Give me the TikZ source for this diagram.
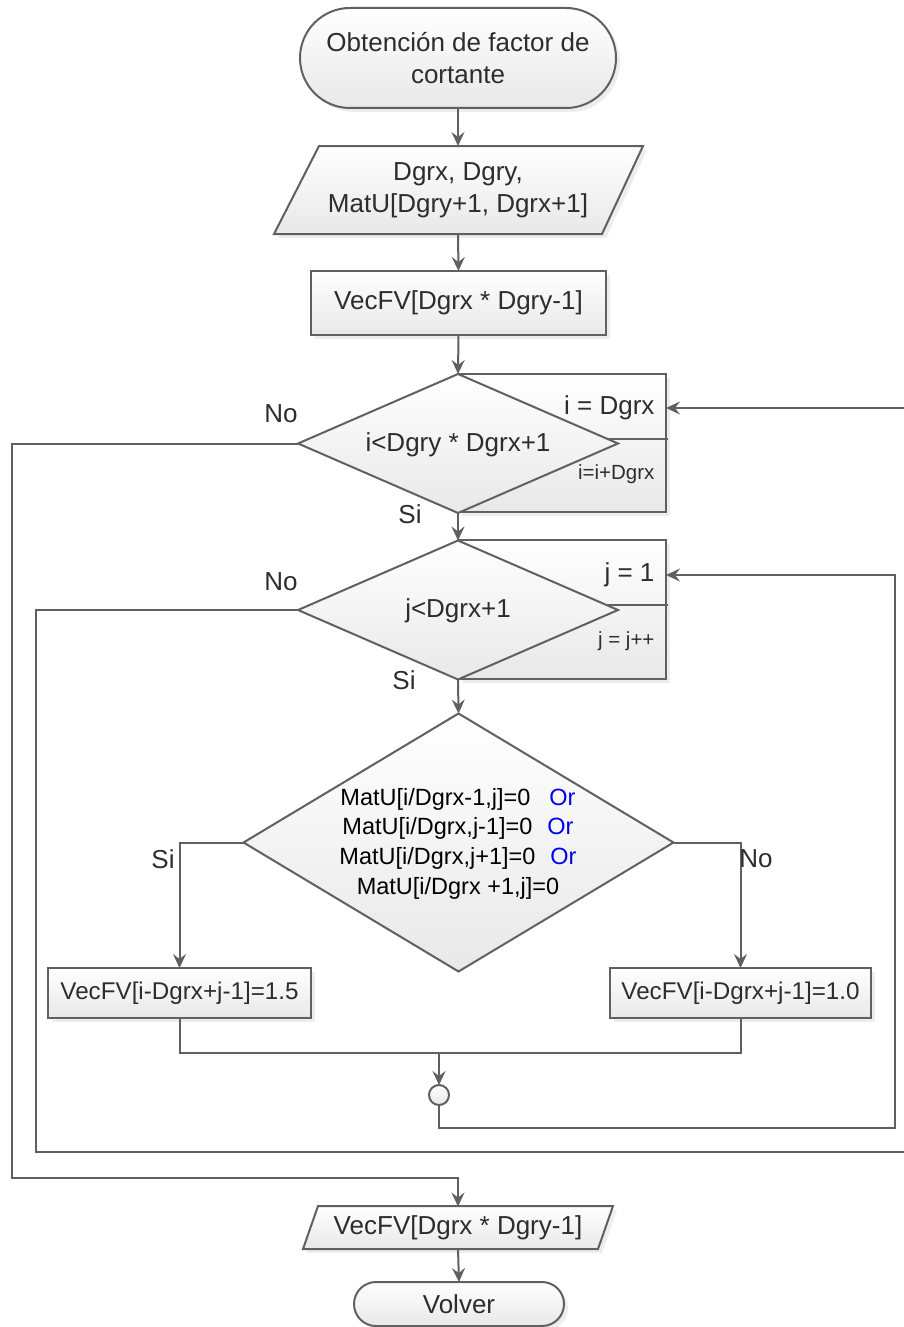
\documentclass[tikz,border=0pt]{standalone}
\usepackage{fontspec}
\setmainfont{Liberation Sans}
\usetikzlibrary{arrows.meta,shapes.geometric,shadows,calc}
\definecolor{linec}{RGB}{96,96,96}
\definecolor{txtc}{RGB}{45,45,45}
\definecolor{orc}{RGB}{0,0,235}
\begin{document}
\begin{tikzpicture}[x=1pt,y=-1pt,
  line/.style={draw=linec, line width=2pt},
  arr/.style={line, -{Stealth[length=14pt,width=13pt,inset=5pt]}},
  body/.style={line, top color=white, bottom color=black!9,
    drop shadow={shadow xshift=4pt, shadow yshift=-4pt, opacity=0.14}},
  flat/.style={line, top color=white, bottom color=black!9},
  big/.style={font=\fontsize{26}{32}\selectfont, text=txtc},
  small/.style={font=\fontsize{20.5}{24}\selectfont, text=txtc},
  boxtxt/.style={font=\fontsize{24.2}{28}\selectfont, text=txtc},
  proc/.style={body, rectangle, inner sep=0pt, outer sep=0pt},
  dec/.style={flat, diamond, inner sep=0pt, outer sep=0pt},
  plain/.style={inner sep=0pt, outer sep=0pt}
]
\useasboundingbox (0,0) rectangle (904,1327);

% start terminator
\node[proc, big, rounded corners=50pt, minimum width=316pt, minimum height=100pt, align=center]
  (start) at (458,58) {Obtención de factor de\\cortante};

% input data
\path[body] (274,234) -- (319,146) -- (643,146) -- (602,234) -- cycle;
\node[plain, big, align=center, minimum height=88pt] (inp) at (458,190)
  {Dgrx, Dgry,\\MatU[Dgry+1, Dgrx+1]};

% vector declaration
\node[proc, big, minimum width=295pt, minimum height=64pt] (vec) at (458.5,303)
  {VecFV[Dgrx * Dgry-1]};

% outer loop on i
\node[proc, minimum width=208pt, minimum height=138pt] (b1) at (562,443) {};
\draw[line] (590,439) -- (668,439);
\node[dec, minimum width=320pt, minimum height=139pt] (d1) at (458,443.5) {};
\node[big] (d1t) at (458,445) {i<Dgry * Dgrx+1};
\node[big, anchor=east] (i0) at (658,408) {i = Dgrx};
\node[small, anchor=east] (i1) at (658,474) {i=i+Dgrx};

% inner loop on j
\node[proc, minimum width=208pt, minimum height=139pt] (b2) at (562,609.5) {};
\draw[line] (590,605) -- (668,605);
\node[dec, minimum width=320pt, minimum height=139pt] (d2) at (458,610) {};
\node[big] (d2t) at (458,611) {j<Dgrx+1};
\node[big, anchor=east] (j0) at (658,575) {j = 1};
\node[small, anchor=east] (j1) at (658,641) {j = j++};

% neighbour test
\node[dec, minimum width=430pt, minimum height=258pt] (d3) at (458.5,842.5) {};
\node[font=\fontsize{23.5}{29.7}\selectfont, text=black, align=center] (d3t) at (458,843.5)
  {MatU[i/Dgrx-1,j]=0\hspace{19pt}{\color{orc}Or}\\
   MatU[i/Dgrx,j-1]=0\hspace{15pt}{\color{orc}Or}\\
   MatU[i/Dgrx,j+1]=0\hspace{15pt}{\color{orc}Or}\\
   MatU[i/Dgrx +1,j]=0};

% assignments
\node[proc, boxtxt, minimum width=263pt, minimum height=50pt] (bl) at (179.5,993)
  {VecFV[i-Dgrx+j-1]=1.5};
\node[proc, boxtxt, minimum width=261pt, minimum height=50pt] (br) at (740.5,993)
  {VecFV[i-Dgrx+j-1]=1.0};

% junction
\node[flat, circle, minimum size=20pt, inner sep=0pt, outer sep=0pt] (c) at (439,1095) {};

% output and end
\path[body] (303,1249) -- (318,1206) -- (613,1206) -- (598,1249) -- cycle;
\node[plain, big, minimum height=43pt] (outp) at (458,1228) {VecFV[Dgrx * Dgry-1]};
\node[proc, big, rounded corners=22pt, minimum width=210pt, minimum height=44pt]
  (fin) at (459,1304) {Volver};

% connectors
\coordinate (mrg) at (439,1053);
\coordinate (jret) at (895,1128);
\coordinate (iretL) at (36,1152);
\coordinate (iretR) at (908,1152);
\coordinate (exL) at (12,1178);

\draw[arr] (start.south) -- (inp.north);
\draw[arr] (inp.south) -- (vec.north);
\draw[arr] (vec.south) -- (d1.north);
\draw[arr] (d1.south) -- (d2.north);
\draw[arr] (d2.south) -- (d3.north);
\draw[arr] (d3.west) -| (bl.north);
\draw[arr] (d3.east) -| (br.north);
\draw[line] (bl.south) |- (mrg) -| (br.south);
\draw[arr] (mrg) -- (c.north);
\draw[arr] (c.south) |- (jret) |- (b2.east |- j0);
\draw[arr] (d2.west) -| (iretL) -- (iretR) |- (b1.east |- i0);
\draw[arr] (d1.west) -| (exL) -| (outp.north);
\draw[arr] (outp.south) -- (fin.north);

% branch labels
\node[big] (no1) at (281,414) {No};
\node[big] (si1) at (410,514) {Si};
\node[big] (no2) at (281,582) {No};
\node[big] (si2) at (404,680) {Si};
\node[big] (si3) at (163,859) {Si};
\node[big] (no3) at (756,859) {No};
\end{tikzpicture}
\end{document}
